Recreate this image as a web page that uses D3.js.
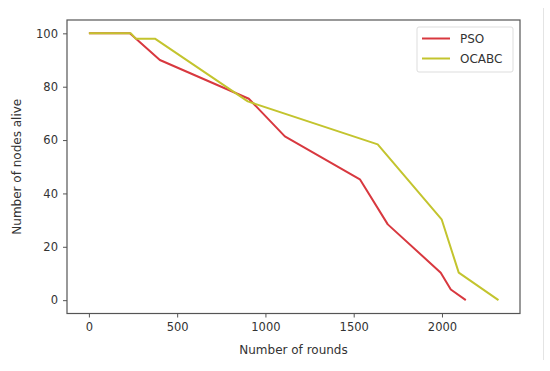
<!DOCTYPE html>
<html>
<head>
<meta charset="utf-8">
<script src="https://cdn.jsdelivr.net/npm/d3@7"></script>
<style>
  body { margin: 0; background: #fff; }
  text { font-family: "DejaVu Sans", sans-serif; }
</style>
</head>
<body>
<div id="chart"></div>
<script>
// Values
const psoRounds = [0, 232, 402, 906, 1110, 1535, 1693, 1993, 2050, 2135];
const psoAlive  = [100, 100, 90, 75.5, 61.4, 45.3, 28.4, 10.3, 4, 0];
const ocabcRounds = [0, 238, 265, 374, 900, 1636, 1998, 2095, 2320];
const ocabcAlive  = [100, 100, 98, 98, 74.5, 58.4, 30.3, 10.3, 0];
const xTicks = [0, 500, 1000, 1500, 2000];
const yTicks = [0, 20, 40, 60, 80, 100];
const seriesNames = ["PSO", "OCABC"];
const seriesColors = ["#d8383f", "#c3c42e"];

const width = 550, height = 371;
const plotLeft = 67, plotRight = 520, plotTop = 20, plotBottom = 313.5;

const svg = d3.select("#chart").append("svg")
    .attr("width", width)
    .attr("height", height);

const x = d3.scaleLinear().domain([-124, 2442]).range([plotLeft, plotRight]);
const y = d3.scaleLinear().domain([-5, 105]).range([plotBottom, plotTop]);

// faint page border on the right like the screenshot
svg.append("line")
    .attr("x1", 543.5).attr("x2", 543.5)
    .attr("y1", 8).attr("y2", 360)
    .attr("stroke", "#e4e4e4");

const series = [
    psoRounds.map((r, i) => [r, psoAlive[i]]),
    ocabcRounds.map((r, i) => [r, ocabcAlive[i]])
];

const line = d3.line().x(d => x(d[0])).y(d => y(d[1]));

svg.append("g")
    .selectAll("path")
    .data(series)
    .join("path")
    .attr("fill", "none")
    .attr("stroke", (d, i) => seriesColors[i])
    .attr("stroke-width", 2)
    .attr("stroke-linejoin", "round")
    .attr("d", line);

// axes
const xAxis = svg.append("g")
    .attr("transform", `translate(0,${plotBottom})`)
    .call(d3.axisBottom(x).tickValues(xTicks).tickFormat(d3.format("d")).tickSize(4).tickPadding(5));
const yAxis = svg.append("g")
    .attr("transform", `translate(${plotLeft},0)`)
    .call(d3.axisLeft(y).tickValues(yTicks).tickFormat(d3.format("d")).tickSize(4).tickPadding(5));

[xAxis, yAxis].forEach(g => {
    g.select(".domain").remove();
    g.selectAll(".tick line").attr("stroke", "#555");
    g.selectAll(".tick text")
        .attr("fill", "#333")
        .style("font-size", "11.5px")
        .style("font-family", "DejaVu Sans, sans-serif");
});

// frame
svg.append("rect")
    .attr("x", plotLeft).attr("y", plotTop)
    .attr("width", plotRight - plotLeft).attr("height", plotBottom - plotTop)
    .attr("fill", "none")
    .attr("stroke", "#555")
    .attr("stroke-width", 1.2);

// axis labels
svg.append("text")
    .attr("x", (plotLeft + plotRight) / 2)
    .attr("y", 354)
    .attr("text-anchor", "middle")
    .attr("fill", "#333")
    .style("font-size", "12px")
    .text("Number of rounds");

svg.append("text")
    .attr("transform", `translate(21,${(plotTop + plotBottom) / 2}) rotate(-90)`)
    .attr("text-anchor", "middle")
    .attr("fill", "#333")
    .style("font-size", "12px")
    .text("Number of nodes alive");

// legend
const legend = svg.append("g").attr("transform", "translate(417,27)");
legend.append("rect")
    .attr("width", 96).attr("height", 45)
    .attr("rx", 2)
    .attr("fill", "#fff")
    .attr("stroke", "#ddd");

const item = legend.selectAll("g.item")
    .data(seriesNames)
    .join("g")
    .attr("class", "item")
    .attr("transform", (d, i) => `translate(0,${11.5 + i * 20})`);

item.append("line")
    .attr("x1", 5).attr("x2", 33)
    .attr("stroke", (d, i) => seriesColors[i])
    .attr("stroke-width", 2);

item.append("text")
    .attr("x", 43)
    .attr("dy", "0.36em")
    .attr("fill", "#333")
    .style("font-size", "12px")
    .text(d => d);
</script>
</body>
</html>
